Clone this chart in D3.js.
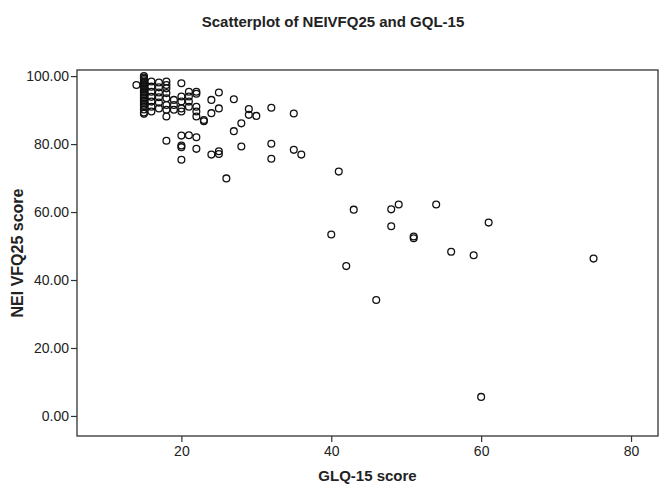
<!DOCTYPE html>
<html>
<head>
<meta charset="utf-8">
<script src="https://cdn.jsdelivr.net/npm/d3@7"></script>
<style>
  body { margin: 0; background: #fff; }
  text { font-family: "Liberation Sans", Arial, sans-serif; fill: #222; }
</style>
</head>
<body>
<div id="chart"></div>
<script>
// GLQ-15 score (x) and NEI VFQ25 score (y)
const glq = [
  14,
  15, 15, 15, 15, 15, 15, 15, 15, 15, 15, 15, 15, 15, 15, 15, 15, 15, 15, 15, 15, 15, 15, 15, 15,
  16, 16, 16, 16, 16, 16, 16,
  17, 17, 17, 17, 17, 17,
  18, 18, 18, 18, 18, 18, 18, 18, 18,
  19, 19, 19,
  20, 20, 20, 20, 20, 20, 20, 20, 20,
  21, 21, 21, 21, 21,
  22, 22, 22, 22, 22, 22, 22,
  23, 23,
  24, 24, 24,
  25, 25, 25, 25,
  26, 27, 27, 28, 28, 29, 29, 30,
  32, 32, 32, 35, 35, 36,
  40, 41, 42, 43, 46, 48, 48, 49, 51, 51, 54, 56, 59, 60, 61, 75
];
const vfq = [
  97.4,
  100.0, 99.6, 99.2, 98.8, 98.3, 97.9, 97.4, 97.0, 96.5, 96.1, 95.6, 95.2, 94.7, 94.3, 93.8, 93.4, 92.9, 92.5, 92.0, 91.6, 91.1, 90.2, 89.3, 88.9,
  98.4, 96.9, 95.4, 93.9, 92.5, 91.0, 89.6,
  98.1, 96.7, 95.2, 93.8, 92.2, 90.5,
  98.4, 97.4, 96.4, 95.0, 93.5, 91.5, 90.1, 88.1, 81.0,
  93.0, 91.5, 90.1,
  97.9, 94.0, 92.5, 90.5, 89.6, 82.5, 79.6, 79.1, 75.4,
  95.4, 94.0, 92.5, 91.0, 82.6,
  95.4, 94.8, 91.0, 89.6, 88.1, 82.0, 78.6,
  87.1, 86.7,
  93.0, 89.1, 76.9,
  95.2, 90.5, 77.9, 77.1,
  69.9, 93.2, 83.8, 86.1, 79.3, 90.3, 88.6, 88.3,
  90.7, 80.1, 75.7, 89.0, 78.3, 76.9,
  53.4, 71.9, 44.1, 60.7, 34.1, 60.8, 55.8, 62.2, 52.8, 52.3, 62.2, 48.3, 47.3, 5.6, 56.9, 46.3
];
const xTicks = [20, 40, 60, 80];
const yTicks = [0, 20, 40, 60, 80, 100];

const width = 666, height = 491;
const margin = { top: 70, right: 8, bottom: 55, left: 77 };

const svg = d3.select("#chart").append("svg")
  .attr("width", width).attr("height", height);

const x = d3.scaleLinear().domain([6.07, 83.6])
  .range([margin.left, width - margin.right]);
const y = d3.scaleLinear().domain([-5.9, 101.8])
  .range([height - margin.bottom, margin.top]);

svg.append("text")
  .attr("x", width / 2).attr("y", 27)
  .attr("text-anchor", "middle")
  .style("font-size", "15px").style("font-weight", "bold")
  .text("Scatterplot of NEIVFQ25 and GQL-15");

// frame
svg.append("rect")
  .attr("x", margin.left).attr("y", margin.top)
  .attr("width", width - margin.left - margin.right)
  .attr("height", height - margin.top - margin.bottom)
  .attr("fill", "none").attr("stroke", "#333").attr("stroke-width", 1.3);

const xAxis = svg.append("g")
  .attr("transform", `translate(0,${height - margin.bottom})`)
  .call(d3.axisBottom(x).tickValues(xTicks).tickSize(6).tickPadding(4));
const yAxis = svg.append("g")
  .attr("transform", `translate(${margin.left},0)`)
  .call(d3.axisLeft(y).tickValues(yTicks).tickFormat(d3.format(".2f")).tickSize(6).tickPadding(2));

[xAxis, yAxis].forEach(g => {
  g.select(".domain").remove();
  g.selectAll("line").attr("stroke", "#333").attr("stroke-width", 1.2);
  g.selectAll("text").style("font-size", "14px").style("font-family", "Liberation Sans, Arial, sans-serif").attr("fill", "#222");
});

svg.append("text")
  .attr("x", (margin.left + width - margin.right) / 2).attr("y", 481)
  .attr("text-anchor", "middle")
  .style("font-size", "15px").style("font-weight", "bold")
  .text("GLQ-15 score");

svg.append("text")
  .attr("transform", `translate(23,${(margin.top + height - margin.bottom) / 2}) rotate(-90)`)
  .attr("text-anchor", "middle")
  .style("font-size", "16px").style("font-weight", "bold")
  .text("NEI VFQ25 score");

svg.append("g").selectAll("circle")
  .data(glq.map((g, i) => [g, vfq[i]]))
  .enter().append("circle")
  .attr("cx", d => x(d[0]))
  .attr("cy", d => y(d[1]))
  .attr("r", 3.4)
  .attr("fill", "none")
  .attr("stroke", "#111")
  .attr("stroke-width", 1.3);
</script>
</body>
</html>
